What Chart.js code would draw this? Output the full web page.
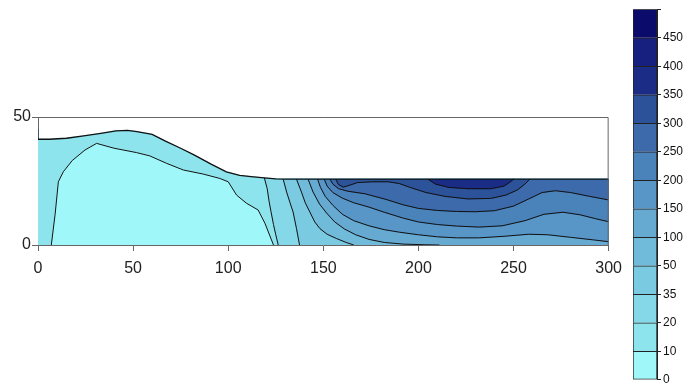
<!DOCTYPE html>
<html>
<head>
<meta charset="utf-8">
<script src="https://cdn.jsdelivr.net/npm/chart.js@4.4.1/dist/chart.umd.min.js"></script>
<style>
  html, body { margin: 0; padding: 0; background: #fff; }
  #wrap { position: relative; width: 698px; height: 389px; }
  #main { position: absolute; left: 0; top: 0; }
  #bar { position: absolute; left: 620px; top: 0; }
</style>
</head>
<body>
<div id="wrap">
  <canvas id="main" width="630" height="389"></canvas>
  <canvas id="bar" width="78" height="389"></canvas>
</div>
<script>
// colour bar levels, bottom to top
const levels = ['0', '10', '20', '35', '50', '100', '150', '200', '250', '300', '350', '400', '450'];
const levelColors = ['#9ff7fa', '#8de4ed', '#84d8e8', '#7acae2', '#70bada', '#66aad2', '#5896c8',
                     '#4a82ba', '#3c6aaa', '#2c5299', '#1a2c86', '#17207e', '#0b0b6b'];

// ground surface (x, elevation)
const yTop = 25.7;
const surface = [[0, 45.5], [0, 41.3], [6, 41.3], [15, 41.7], [24, 42.6], [33, 43.6], [41, 44.6], [47, 44.8],
  [52, 44.3], [60, 43.2], [67, 40.6], [75, 37.8], [82, 35.2], [91, 31.6], [99, 28.6], [106, 27.2],
  [112, 26.7], [119, 26.2], [125, 25.8], [130, 25.7], [300, 25.7]];

// contour lines, one per level
const c10 = [[7, 0], [9, 12], [10.7, 24.7], [13.3, 28.6], [18, 33], [24.7, 37.1], [30.8, 39.7], [40, 37.8],
  [51.8, 36.1], [58.8, 34.8], [67.6, 31.9], [76.4, 29.3], [86.9, 27.7], [95.6, 26], [100, 24.7],
  [104.4, 19.5], [109.6, 16.3], [115.7, 13.7], [119.3, 8.5], [123.8, 0]];
const c20 = [[119, 26.2], [120.5, 22], [121.5, 17], [122.5, 13], [123.8, 8], [125, 4], [126.3, 0]];
const c35 = [[128.9, 25.7], [130.7, 20.7], [132.5, 16.5], [134.1, 12.9], [135.9, 6.4], [137.5, 0]];
const c50 = [[135.9, 25.7], [138.5, 20.7], [140.5, 16.5], [142.9, 12.9], [145.5, 9], [148.2, 6.4],
  [152, 4.2], [157, 2.5], [162, 1], [166, 0]];
const c100 = [[142, 25.7], [144.6, 20.7], [148, 16], [151.7, 12.5], [156, 9], [161, 6.3], [167, 4],
  [174, 2.2], [182, 1], [192, 0.35], [203, 0.1], [211, 0]];
const c150 = [[147, 25.7], [148.5, 22.5], [151, 19], [155, 15.5], [160, 12], [166, 9.5], [174, 7.5],
  [182, 6], [190, 5], [200, 4], [210, 3.2], [220, 2.8], [232, 2.8], [245, 3.4], [258, 4.2], [268, 4],
  [280, 3], [292, 2], [300, 1.3]];
const c200 = [[150.5, 25.7], [152, 23], [155, 20.5], [160, 18.3], [166, 16.5], [174, 14.8], [182, 12.8],
  [192, 10.5], [200, 9], [210, 8], [220, 7.4], [232, 7], [244, 7.5], [256, 9.5], [266, 12], [276, 12.8],
  [285, 11.8], [293, 10.3], [300, 9.1]];
const c250 = [[153.5, 25.7], [155, 23.8], [158, 22], [163, 21], [172, 20], [183, 17.8], [192, 15.7],
  [200, 14.3], [210, 13.5], [220, 13.1], [230, 13], [240, 13.4], [250, 15.2], [258, 18], [265, 20.5],
  [272, 21.2], [280, 20.5], [290, 19], [300, 17.6]];
const c300 = [[156.5, 25.7], [158, 23.6], [160.5, 22.6], [164, 23.4], [168, 24.4], [176, 24.7], [184, 24.7],
  [190, 24], [196, 22.4], [204, 20.5], [214, 19], [226, 18], [238, 18.2], [246, 19.5], [252, 21.5],
  [256, 23.8], [258.5, 25.7]];
const c350 = [[205, 25.7], [209, 23.8], [216, 22.5], [226, 22], [238, 22], [245, 23], [248, 24.5], [250, 25.7]];

const xTicks = [0, 50, 100, 150, 200, 250, 300];

function pts(a) {
  return a.map(p => ({x: p[0], y: p[1]}));
}

// surface points right of x0, walking back towards it
function topFrom(x0) {
  return surface.filter(p => p[0] > x0 && p[0] < 300).reverse();
}

// area above a contour: close it along the domain edges
function region(line) {
  const last = line[line.length - 1];
  if (last[1] === 0) return line.concat([[300, 0], [300, yTop]], topFrom(line[0][0]));
  if (last[0] === 300) return line.concat([[300, yTop]], topFrom(line[0][0]));
  return line;
}

function area(poly, color) {
  return {data: pts(poly), fill: 'shape', backgroundColor: color, borderColor: color,
          borderWidth: 1, pointRadius: 0};
}

function stroke(line, width) {
  return {data: pts(line), fill: false, borderColor: '#111', borderWidth: width, pointRadius: 0};
}

const upper = [c20, c35, c50, c100, c150, c200, c250, c300, c350];
const all = [c10].concat(upper);

// build bottom to top, chart.js draws dataset 0 last
let sets = [];
sets.push(area(surface.concat([[300, 0], [0, 0]]), levelColors[1]));
sets.push(area(c10, levelColors[0]));
upper.forEach((c, i) => sets.push(area(region(c), levelColors[i + 2])));
all.forEach(c => sets.push(stroke(c, 1)));
sets.push(stroke(surface, 1.3));
sets.reverse();

const frame = {
  id: 'frame',
  afterDatasetsDraw(chart) {
    const {ctx, chartArea: a} = chart;
    ctx.save();
    ctx.strokeStyle = '#666';
    ctx.lineWidth = 1;
    ctx.beginPath();
    ctx.moveTo(a.left, a.top + 0.5);
    ctx.lineTo(a.right - 0.5, a.top + 0.5);
    ctx.lineTo(a.right - 0.5, a.bottom);
    ctx.stroke();
    ctx.restore();
  }
};

const tickFont = {family: "'Liberation Sans', Arial, sans-serif", size: 16};

new Chart(document.getElementById('main'), {
  type: 'line',
  data: {datasets: sets},
  options: {
    responsive: false,
    animation: false,
    layout: {padding: {left: 0, right: 21, top: 117, bottom: 0}},
    plugins: {legend: {display: false}, tooltip: {enabled: false}},
    scales: {
      x: {
        type: 'linear', min: 0, max: 300,
        afterBuildTicks: s => { s.ticks = xTicks.map(v => ({value: v})); },
        afterFit: s => { s.height = 144; },
        ticks: {font: tickFont, color: '#222', padding: 8},
        grid: {drawOnChartArea: false, tickLength: 6, color: '#666'},
        border: {color: '#666'}
      },
      y: {
        type: 'linear', min: 0, max: 50,
        afterFit: s => { s.width = 38; },
        ticks: {stepSize: 50, font: tickFont, color: '#222', padding: 1},
        grid: {drawOnChartArea: false, tickLength: 6, color: '#666'},
        border: {color: '#666'}
      }
    }
  },
  plugins: [frame]
});

// colour bar
const barSets = levelColors.map((c, i) => ({
  data: [1], backgroundColor: c, borderColor: '#222', borderWidth: 1,
  borderSkipped: i === 0 ? false : 'start', barPercentage: 1, categoryPercentage: 1
}));

new Chart(document.getElementById('bar'), {
  type: 'bar',
  data: {labels: [''], datasets: barSets},
  options: {
    responsive: false,
    animation: false,
    layout: {padding: {left: 13, right: 0, top: 8, bottom: 5}},
    plugins: {legend: {display: false}, tooltip: {enabled: false}},
    scales: {
      x: {display: false, stacked: true},
      y: {
        stacked: true, position: 'right', min: 0, max: 13,
        afterFit: s => { s.width = 41; },
        ticks: {stepSize: 1, padding: 2, color: '#111',
                font: {family: "'Liberation Sans', Arial, sans-serif", size: 12},
                callback: v => levels[v] || ''},
        grid: {drawOnChartArea: false, tickLength: 4, color: '#222'},
        border: {color: '#222'}
      }
    }
  }
});
</script>
</body>
</html>
